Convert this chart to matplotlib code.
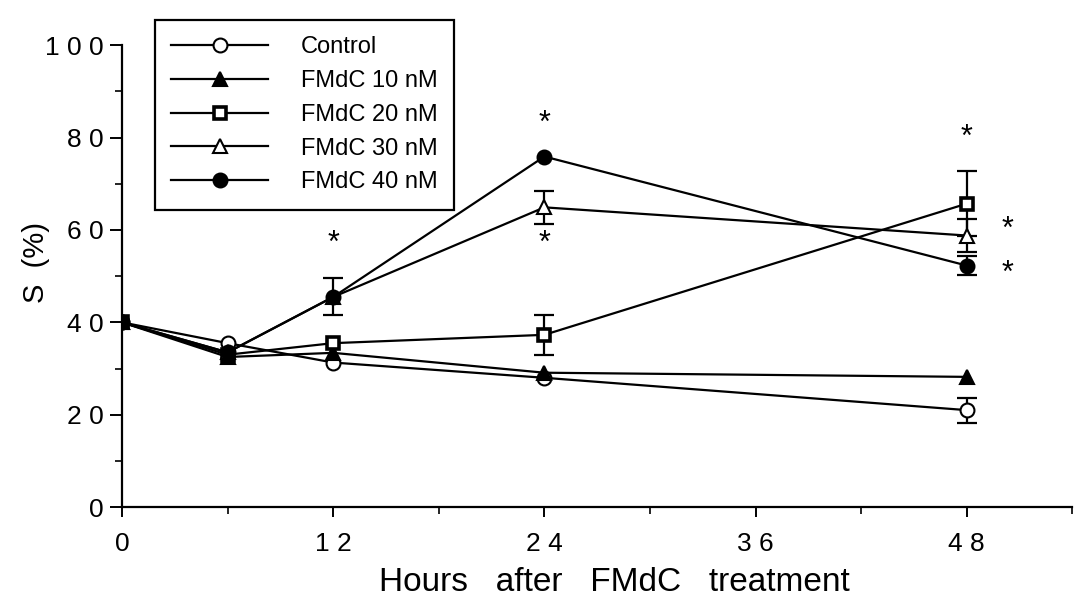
import matplotlib
matplotlib.use("Agg")
import matplotlib.pyplot as plt
from matplotlib.ticker import MultipleLocator

plt.rcParams['font.family'] = ['Liberation Sans', 'DejaVu Sans']

# time points (hours) and S-phase fraction (%)
hours = [0, 6, 12, 24, 48]
control = [40, 35.5, 31.3, 28.0, 21.0]
fmdc10 = [40, 32.5, 33.4, 29.1, 28.2]
fmdc20 = [40, 33.0, 35.5, 37.3, 65.7]
fmdc30 = [40, 33.5, 45.5, 64.9, 58.8]
fmdc40 = [40, 33.5, 45.5, 75.9, 52.3]

# error bars, only where drawn (0 = none)
err_control = [0, 0, 0, 0, 2.7]
err_fmdc10 = [0, 0, 0, 0, 0]
err_fmdc20 = [0, 0, 0, 4.4, 7.0]
err_fmdc30 = [0, 0, 0, 3.5, 3.5]
err_fmdc40 = [0, 0, 4.0, 0, 2.0]

# significance asterisks
star_x = [12, 24, 24, 48, 50.3, 50.3]
star_y = [57.0, 83.0, 57.0, 80.0, 60.0, 50.5]

xticks = [0, 12, 24, 36, 48]
xtick_labels = ["0", "1 2", "2 4", "3 6", "4 8"]
yticks = [0, 20, 40, 60, 80, 100]
ytick_labels = ["0", "2 0", "4 0", "6 0", "8 0", "1 0 0"]

series = [
    ("Control", control, err_control, dict(marker='o', mfc='white')),
    ("FMdC 10 nM", fmdc10, err_fmdc10, dict(marker='^', mfc='black')),
    ("FMdC 20 nM", fmdc20, err_fmdc20, dict(marker='s', mfc='white', ms=8, mew=2.6)),
    ("FMdC 30 nM", fmdc30, err_fmdc30, dict(marker='^', mfc='white')),
    ("FMdC 40 nM", fmdc40, err_fmdc40, dict(marker='o', mfc='black')),
]

fig = plt.figure(figsize=(10.75, 6.03), dpi=100)
ax = fig.add_axes([0.1135, 0.159, 0.884, 0.766])

for name, vals, errs, style in series:
    kw = dict(color='black', mec='black', ms=10, mew=1.5, lw=1.6)
    kw.update(style)
    ax.plot(hours, vals, label=name, zorder=3, **kw)
    idx = [i for i, e in enumerate(errs) if e > 0]
    if idx:
        ax.errorbar([hours[i] for i in idx], [vals[i] for i in idx],
                    yerr=[errs[i] for i in idx], fmt='none', ecolor='black',
                    elinewidth=1.6, capsize=7, capthick=1.6, zorder=2)

for sx, sy in zip(star_x, star_y):
    ax.text(sx, sy, "*", ha='center', va='center', fontsize=22)

ax.set_xlim(0, 54)
ax.set_ylim(0, 100)
ax.set_xticks(xticks)
ax.set_xticklabels(xtick_labels, fontsize=19)
ax.set_yticks(yticks)
ax.set_yticklabels(ytick_labels, fontsize=19)
ax.xaxis.set_minor_locator(MultipleLocator(6))
ax.yaxis.set_minor_locator(MultipleLocator(10))
ax.tick_params(axis='both', which='major', direction='out', width=1.4)
ax.tick_params(axis='both', which='minor', direction='out', length=5, width=1.2)
ax.tick_params(axis='x', which='major', length=7, pad=11)
ax.tick_params(axis='y', which='major', length=8.5, pad=5)

for side in ('top', 'right'):
    ax.spines[side].set_visible(False)
for side in ('left', 'bottom'):
    ax.spines[side].set_linewidth(1.6)

ax.set_xlabel("Hours   after   FMdC   treatment", fontsize=24)
ax.xaxis.set_label_coords(0.518, -0.182)
ax.xaxis.label.set_verticalalignment('baseline')

ax.set_ylabel("S  (%)", fontsize=21)
ax.yaxis.label.set(va='center', ha='center', rotation_mode='default')
ax.yaxis.set_label_coords(-0.091, 0.53)

leg = ax.legend(loc='upper left', bbox_to_anchor=(0.133, 0.987),
                bbox_transform=fig.transFigure, fontsize=17,
                handlelength=4.1, handletextpad=1.4, labelspacing=0.5,
                borderpad=0.7, fancybox=False, framealpha=1)
leg.get_frame().set_edgecolor('black')
leg.get_frame().set_linewidth(1.6)

fig.savefig("out.png", dpi=100)
